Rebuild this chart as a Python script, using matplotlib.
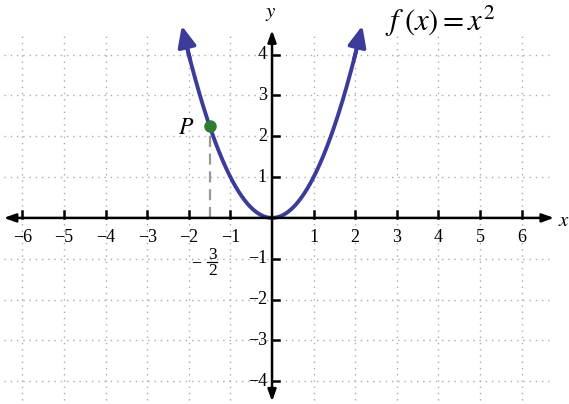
import numpy as np
import matplotlib.pyplot as plt

plt.rcParams['font.family'] = ['Liberation Serif', 'DejaVu Serif']
plt.rcParams['mathtext.fontset'] = 'stix'

# data
x_ticks = [-6, -5, -4, -3, -2, -1, 1, 2, 3, 4, 5, 6]
y_ticks = [-4, -3, -2, -1, 1, 2, 3, 4]
curve_x = np.linspace(-2.17, 2.17, 300)
curve_y = curve_x ** 2
p_x = -1.5
p_y = p_x ** 2

BLUE = '#3b3b9c'
GREEN = '#2e7d32'

fig = plt.figure(figsize=(5.69, 4.04), dpi=100)
ax = fig.add_axes([0, 0, 1, 1])
ax.set_xlim(-6.54, 7.14)
ax.set_ylim(-4.56, 5.34)
ax.axis('off')

# dotted grid
for gx in range(-6, 7):
    if gx != 0:
        ax.plot([gx, gx], [-4.45, 4.45], color='#aaaaaa', lw=1, ls=(0, (1, 3.5)), zorder=0)
for gy in range(-4, 5):
    if gy != 0:
        ax.plot([-6.45, 6.65], [gy, gy], color='#aaaaaa', lw=1, ls=(0, (1, 3.5)), zorder=0)

# axes with arrows
arr = dict(arrowstyle='-|>,head_length=0.7,head_width=0.25', color='black', lw=1.8,
           shrinkA=0, shrinkB=0)
ax.annotate('', xy=(-6.45, 0), xytext=(0, 0), arrowprops=arr)
ax.annotate('', xy=(6.78, 0), xytext=(0, 0), arrowprops=arr)
ax.annotate('', xy=(0, 4.6), xytext=(0, 0), arrowprops=arr)
ax.annotate('', xy=(0, -4.5), xytext=(0, 0), arrowprops=arr)

# ticks and labels
for t in x_ticks:
    ax.plot([t, t], [0, 0.17], color='black', lw=1.8)
    ax.text(t, -0.48, '\u2212' + str(-t) if t < 0 else str(t), ha='center', va='center',
            fontsize=13)
for t in y_ticks:
    ax.plot([0, 0.17], [t, t], color='black', lw=1.8)
    ax.text(-0.12, t, '\u2212' + str(-t) if t < 0 else str(t), ha='right', va='center',
            fontsize=13)

ax.text(7.03, -0.08, '$x$', ha='center', va='center', fontsize=15)
ax.text(-0.02, 5.0, '$y$', ha='center', va='center', fontsize=15)

# parabola with arrows at both ends
ax.plot(curve_x[8:-8], curve_y[8:-8], color=BLUE, lw=2.8, solid_capstyle='butt')
carr = dict(arrowstyle='-|>,head_length=1.25,head_width=0.55', color=BLUE, lw=2.8,
            shrinkA=0, shrinkB=0)
ax.annotate('', xy=(curve_x[0], curve_y[0]), xytext=(curve_x[14], curve_y[14]), arrowprops=carr)
ax.annotate('', xy=(curve_x[-1], curve_y[-1]), xytext=(curve_x[-15], curve_y[-15]), arrowprops=carr)

# point P
ax.plot([p_x, p_x], [0, p_y], color='#999999', lw=1.6, ls=(0, (5, 3)), zorder=1)
ax.plot(p_x, p_y, 'o', color=GREEN, ms=8, zorder=5)
ax.text(-2.07, 2.2, '$P$', ha='center', va='center', fontsize=17)

# -3/2 label under the dashed line
ax.text(-1.83, -1.1, '\u2212', ha='center', va='center', fontsize=13)
ax.text(-1.44, -0.9, '3', ha='center', va='center', fontsize=12.5)
ax.plot([-1.56, -1.32], [-1.08, -1.08], color='black', lw=0.9)
ax.text(-1.44, -1.29, '2', ha='center', va='center', fontsize=12.5)

ax.text(4.05, 4.82, r'$f\;\left(x\right)=x^2$', ha='center', va='center', fontsize=22)

fig.savefig('out.png', dpi=100)
